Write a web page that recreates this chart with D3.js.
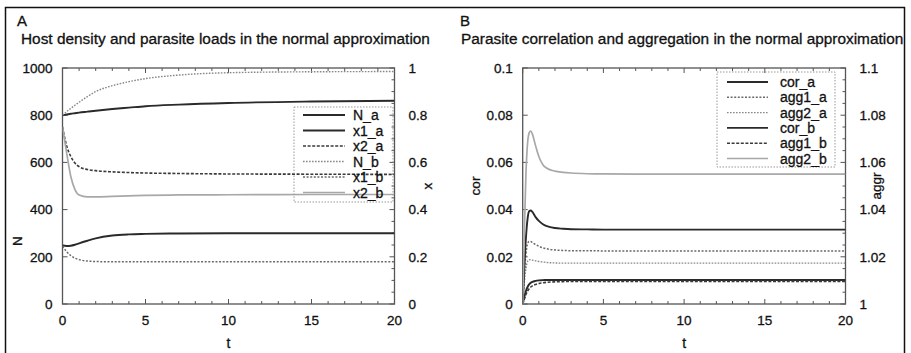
<!DOCTYPE html>
<html><head><meta charset="utf-8">
<script src="https://cdn.jsdelivr.net/npm/d3@7/dist/d3.min.js"></script>
<style>
body{margin:0;background:#fff;}
text{font-family:"Liberation Sans",Arial,Helvetica,sans-serif;fill:#111;stroke:#111;stroke-width:0.3px;}
</style></head>
<body><svg id="c" width="911" height="353"></svg>
<script>
// ---- Panel A data ----
const tA = [0, 0.25, 0.5, 0.75, 1, 1.5, 2, 3, 4, 5, 7, 10, 15, 20];
const N_a  = [800, 803, 806, 808.5, 811, 815, 819, 826, 832, 838, 845, 852, 858, 861];
const N_b  = [800, 815, 829, 842, 855, 879, 900, 925, 942, 955, 970, 980, 984, 985];
const x1_a = [0.248, 0.246, 0.247, 0.251, 0.257, 0.268, 0.278, 0.29, 0.295, 0.297, 0.299, 0.3, 0.3, 0.3];
const x2_a = [0.75, 0.67, 0.625, 0.597, 0.582, 0.57, 0.565, 0.56, 0.557, 0.555, 0.553, 0.551, 0.55, 0.549];
const x1_b = [0.245, 0.222, 0.205, 0.194, 0.188, 0.182, 0.18, 0.179, 0.179, 0.179, 0.179, 0.179, 0.179, 0.179];
const x2_b = [0.75, 0.64, 0.54, 0.485, 0.462, 0.454, 0.454, 0.456, 0.458, 0.46, 0.462, 0.463, 0.464, 0.464];
const yTicksA = [0, 200, 400, 600, 800, 1000];
const y2TicksA = [0, 0.2, 0.4, 0.6, 0.8, 1];
const xTicks = [0, 5, 10, 15, 20];

// ---- Panel B data ----
const tB = [0, 0.1, 0.2, 0.3, 0.4, 0.5, 0.6, 0.8, 1, 1.25, 1.5, 2, 2.5, 3, 4, 5, 7, 10, 15, 20];
const cor_a  = [0, 0.003, 0.0055, 0.0072, 0.0083, 0.009, 0.0094, 0.0098, 0.01, 0.0101, 0.0102, 0.0102, 0.0102, 0.0102, 0.0102, 0.0102, 0.0102, 0.0102, 0.0102, 0.0102];
const agg1_a = [1, 1.012, 1.021, 1.0255, 1.0265, 1.0265, 1.026, 1.0252, 1.0245, 1.0238, 1.0234, 1.0229, 1.0227, 1.0226, 1.0226, 1.0225, 1.0225, 1.0225, 1.0225, 1.0225];
const agg2_a = [1, 1.009, 1.015, 1.018, 1.0187, 1.0188, 1.0186, 1.0183, 1.018, 1.0178, 1.0176, 1.0174, 1.0173, 1.0173, 1.0173, 1.0173, 1.0173, 1.0173, 1.0173, 1.0173];
const cor_b  = [0, 0.015, 0.028, 0.036, 0.0393, 0.0396, 0.039, 0.0368, 0.0352, 0.0338, 0.033, 0.0322, 0.0319, 0.0317, 0.0316, 0.0315, 0.0315, 0.0315, 0.0315, 0.0315];
const agg1_b = [1, 1.002, 1.004, 1.0055, 1.0065, 1.0072, 1.0077, 1.0083, 1.0087, 1.009, 1.0092, 1.0094, 1.0095, 1.0096, 1.0096, 1.0096, 1.0096, 1.0096, 1.0096, 1.0096];
const agg2_b = [1, 1.03, 1.055, 1.068, 1.0725, 1.0733, 1.072, 1.067, 1.0625, 1.059, 1.0575, 1.0563, 1.0558, 1.0555, 1.0552, 1.0551, 1.055, 1.055, 1.055, 1.055];
const yTicksB = [0, 0.02, 0.04, 0.06, 0.08, 0.1];
const y2TicksB = [1, 1.02, 1.04, 1.06, 1.08, 1.1];

const svg = d3.select("#c");
svg.append("rect").attr("x",5.5).attr("y",7.5).attr("width",899).attr("height",350)
  .attr("fill","none").attr("stroke","#111").attr("stroke-width",1.5);

const styles = {
  solid:  {c:"#2a2a2a", w:1.9, d:null},
  dash:   {c:"#3a3a3a", w:1.6, d:"3,1.6"},
  dotL:   {c:"#888", w:1.4, d:"1.6,1.4"},
  dotM:   {c:"#6a6a6a", w:1.5, d:"2,1.6"},
  gray:   {c:"#a8a8a8", w:1.7, d:null}
};

function panel(o){
  const g = svg.append("g");
  const x = d3.scaleLinear().domain([0,20]).range([o.x0,o.x1]);
  const y = d3.scaleLinear().domain(o.yd).range([o.y1,o.y0]);
  const y2 = d3.scaleLinear().domain(o.y2d).range([o.y1,o.y0]);
  g.append("rect").attr("x",o.x0).attr("y",o.y0).attr("width",o.x1-o.x0).attr("height",o.y1-o.y0)
   .attr("fill","none").attr("stroke","#555").attr("stroke-width",1.3);
  const tk = g.append("g").attr("stroke","#555").attr("stroke-width",1);
  d3.range(0,21,1).forEach(v=>{
    const L = v%5===0?5:3;
    tk.append("line").attr("x1",x(v)).attr("x2",x(v)).attr("y1",o.y1).attr("y2",o.y1-L);
    tk.append("line").attr("x1",x(v)).attr("x2",x(v)).attr("y1",o.y0).attr("y2",o.y0+L);
  });
  o.yt.forEach(v=>{
    tk.append("line").attr("x1",o.x0).attr("x2",o.x0+5).attr("y1",y(v)).attr("y2",y(v));
  });
  o.y2minor.forEach(v=>{
    const L = o.y2t.some(m=>Math.abs(m-v)<1e-9)?5:3;
    tk.append("line").attr("x1",o.x1).attr("x2",o.x1-L).attr("y1",y2(v)).attr("y2",y2(v));
  });
  const fs = "13.5px";
  xTicks.forEach(v=>g.append("text").attr("x",x(v)).attr("y",o.y1+21).attr("text-anchor","middle").style("font-size",fs).text(v));
  o.yt.forEach(v=>g.append("text").attr("x",o.x0-10).attr("y",y(v)).attr("dy","0.36em").attr("text-anchor","end").style("font-size",fs).text(o.yf(v)));
  o.y2t.forEach(v=>g.append("text").attr("x",o.x1+14).attr("y",y2(v)).attr("dy","0.36em").attr("text-anchor","start").style("font-size",fs).text(o.y2f(v)));
  g.append("text").attr("x",(o.x0+o.x1)/2).attr("y",o.y1+44).attr("text-anchor","middle").style("font-size","14px").text("t");
  g.append("text").attr("transform",`translate(${o.ylx},${o.yly}) rotate(-90)`).attr("text-anchor","middle").style("font-size","13.5px").text(o.yl);
  g.append("text").attr("transform",`translate(${o.y2lx},${o.y2ly}) rotate(-90)`).attr("text-anchor","middle").style("font-size","13.5px").text(o.y2l);
  g.append("text").attr("x",o.lx).attr("y",25.5).style("font-size","15px").text(o.letter);
  g.append("text").attr("x",o.tx).attr("y",43.5).style("font-size","15.4px").text(o.title);
  const cid = "clip"+o.letter;
  svg.append("clipPath").attr("id",cid).append("rect").attr("x",o.x0).attr("y",o.y0-2).attr("width",o.x1-o.x0).attr("height",o.y1-o.y0+2);
  const cg = g.append("g").attr("clip-path",`url(#${cid})`);
  const lg = g.append("g");
  lg.append("rect").attr("x",o.leg.x0).attr("y",o.leg.y0).attr("width",o.leg.x1-o.leg.x0).attr("height",o.leg.y1-o.leg.y0)
    .attr("fill","none").attr("stroke","#999").attr("stroke-width",1).attr("stroke-dasharray","1.5,1.5");
  o.series.forEach((s,i)=>{
    const st = styles[s.style];
    const sc = s.axis===2?y2:y;
    const line = d3.line().x((d,j)=>x(o.t[j])).y(d=>sc(d)).curve(d3.curveMonotoneX);
    const p = cg.append("path").attr("d",line(s.v)).attr("fill","none").attr("stroke",st.c).attr("stroke-width",st.w);
    if(st.d) p.attr("stroke-dasharray",st.d);
    const ly = o.leg.ey0 + i*o.leg.dy;
    const l = lg.append("line").attr("x1",o.leg.lx0).attr("x2",o.leg.lx1).attr("y1",ly).attr("y2",ly).attr("stroke",st.c).attr("stroke-width",st.w);
    if(st.d) l.attr("stroke-dasharray",st.d);
    lg.append("text").attr("x",o.leg.tx).attr("y",ly).attr("dy","0.36em").style("font-size","14px").text(s.name);
  });
}

panel({
  letter:"A", lx:17, tx:21, title:"Host density and parasite loads in the normal approximation",
  x0:62.5, x1:394.5, y0:68, y1:304, t:tA,
  yd:[0,1000], y2d:[0,1], yt:yTicksA, y2t:y2TicksA,
  y2minor:d3.range(0,1.0001,0.05),
  yf:v=>v, y2f:v=>v,
  yl:"N", ylx:22, yly:241, y2l:"x", y2lx:432, y2ly:186,
  leg:{x0:294,x1:393,y0:107,y1:202,ey0:115,dy:15.5,lx0:303,lx1:345,tx:353},
  series:[
    {name:"N_a", v:N_a, axis:1, style:"solid"},
    {name:"x1_a", v:x1_a, axis:2, style:"solid"},
    {name:"x2_a", v:x2_a, axis:2, style:"dash"},
    {name:"N_b", v:N_b, axis:1, style:"dotL"},
    {name:"x1_b", v:x1_b, axis:2, style:"dotM"},
    {name:"x2_b", v:x2_b, axis:2, style:"gray"}
  ]
});

panel({
  letter:"B", lx:460, tx:461, title:"Parasite correlation and aggregation in the normal approximation",
  x0:522.7, x1:845.5, y0:68, y1:304, t:tB,
  yd:[0,0.1], y2d:[1,1.1], yt:yTicksB, y2t:y2TicksB,
  y2minor:d3.range(1,1.1001,0.005),
  yf:v=>v===0?"0":d3.format("~g")(v), y2f:v=>v===1?"1":d3.format("~g")(v),
  yl:"cor", ylx:480, yly:186, y2l:"aggr", y2lx:881, y2ly:186,
  leg:{x0:717,x1:835,y0:72,y1:167,ey0:82,dy:15.3,lx0:727,lx1:768,tx:780},
  series:[
    {name:"cor_a", v:cor_a, axis:1, style:"solid"},
    {name:"agg1_a", v:agg1_a, axis:2, style:"dotM"},
    {name:"agg2_a", v:agg2_a, axis:2, style:"dotL"},
    {name:"cor_b", v:cor_b, axis:1, style:"solid"},
    {name:"agg1_b", v:agg1_b, axis:2, style:"dash"},
    {name:"agg2_b", v:agg2_b, axis:2, style:"gray"}
  ]
});
</script></body></html>
